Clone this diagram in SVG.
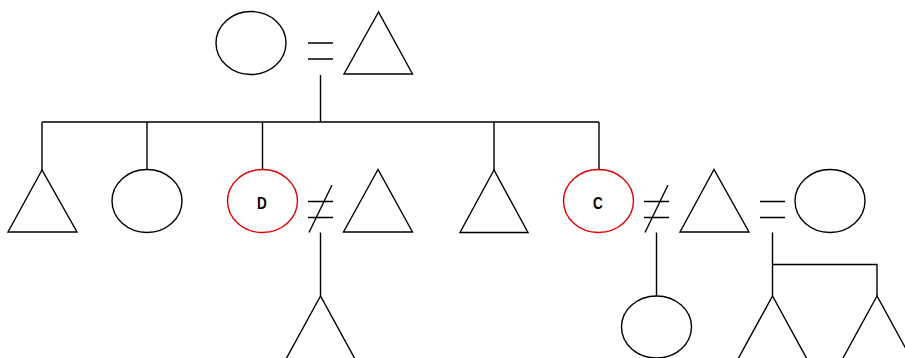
<svg xmlns="http://www.w3.org/2000/svg" width="905" height="358" viewBox="0 0 905 358">
<style>
.s{fill:none;stroke:#000;stroke-width:1.4}
.r{fill:none;stroke:#e00000;stroke-width:1.4}
.t{font-family:"Liberation Sans",Arial,sans-serif;font-size:16.5px;font-weight:bold;fill:#000;text-anchor:middle}
</style>
<rect width="905" height="358" fill="#fff"/>
<g id="connectors" class="s">
<path d="M308,43H333M308,59H333"/>
<path d="M320.5,75V122M42,122H599M42,122V170M147,122V169.5M262.5,122V169.5M494,122V170M599,122V169.5"/>
<path d="M308,201.5H333M308,217.5H333M309,232.5L332,185"/>
<path d="M320.5,232.5V296"/>
<path d="M644,201.5H669M644,217.5H669M645,232.5L668,185"/>
<path d="M656.5,232.5V296"/>
<path d="M760,201.5H785M760,217.5H785"/>
<path d="M772.5,232.5V296M772.5,264.5H877V296"/>
</g>
<g id="gen1-mother"><ellipse class="s" cx="251" cy="43" rx="35" ry="31.5"/></g>
<g id="gen1-father"><polygon class="s" points="378.5,12 344,74 412.5,74"/></g>
<g id="child1"><polygon class="s" points="42,170 8,232 77,232"/></g>
<g id="child2"><ellipse class="s" cx="147" cy="201" rx="35" ry="31.5"/></g>
<g id="child-D"><ellipse class="r" cx="262.5" cy="201" rx="35" ry="31.5"/><text class="t" transform="translate(262,209.3) scale(0.82,1)">D</text></g>
<g id="D-partner"><polygon class="s" points="378,169.5 343.5,232 412.5,232"/></g>
<g id="D-child"><polygon class="s" points="320.5,296 286,359 355,359"/></g>
<g id="child4"><polygon class="s" points="494,170 460,232.5 528,232.5"/></g>
<g id="child-C"><ellipse class="r" cx="598.5" cy="201" rx="35" ry="31.5"/><text class="t" transform="translate(597.8,209.3) scale(0.82,1)">C</text></g>
<g id="C-partner"><polygon class="s" points="714,169.5 680,232 749,232"/></g>
<g id="partner-wife"><ellipse class="s" cx="830" cy="201" rx="35" ry="31.5"/></g>
<g id="C-child"><ellipse class="s" cx="656.5" cy="327" rx="35" ry="31"/></g>
<g id="son1"><polygon class="s" points="772.5,296 738,359 807,359"/></g>
<g id="son2"><polygon class="s" points="877,296 842.5,359 911.5,359"/></g>
</svg>
